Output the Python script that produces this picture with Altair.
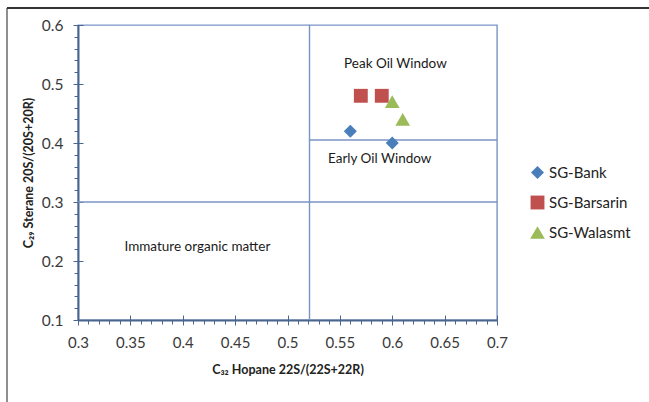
import altair as alt
import pandas as pd

# Sample measurements: C32 hopane vs C29 sterane isomerisation ratios
series = ["SG-Bank", "SG-Barsarin", "SG-Walasmt"]
sample_group = ["SG-Bank", "SG-Bank", "SG-Barsarin", "SG-Barsarin", "SG-Walasmt", "SG-Walasmt"]
hopane_ratio = [0.56, 0.60, 0.57, 0.59, 0.60, 0.61]
sterane_ratio = [0.42, 0.40, 0.48, 0.48, 0.47, 0.44]

series_colors = ["#4A7EBB", "#C0504D", "#9BBB59"]
series_shapes = ["diamond", "square", "triangle-up"]
series_sizes = [170, 215, 200]

# Axis ticks
x_ticks = [0.3, 0.35, 0.4, 0.45, 0.5, 0.55, 0.6, 0.65, 0.7]
y_ticks = [0.1, 0.2, 0.3, 0.4, 0.5, 0.6]
x_minor = [round(0.3 + 0.01 * i, 2) for i in range(41)]
y_minor = [round(0.1 + 0.02 * i, 2) for i in range(26)]

# Maturity zone boundaries
zone_x = [0.521, 0.3, 0.521]
zone_x2 = [0.521, 0.7, 0.7]
zone_y = [0.1, 0.3, 0.405]
zone_y2 = [0.6, 0.3, 0.405]

# Maturity zone labels
zone_labels = ["Peak Oil Window", "Early Oil Window", "Immature organic matter"]
label_x = [0.603, 0.588, 0.414]
label_y = [0.534, 0.373, 0.224]

W, H = 419, 295
AXIS = "#4A6690"
BOX = "#7894C4"
FONT = "Lato"

points = pd.DataFrame({"group": sample_group, "hopane": hopane_ratio, "sterane": sterane_ratio})
zones = pd.DataFrame({"x": zone_x, "x2": zone_x2, "y": zone_y, "y2": zone_y2})
labels = pd.DataFrame({"label": zone_labels, "x": label_x, "y": label_y})

xs = alt.Scale(domain=[0.3, 0.7], nice=False, zero=False)
ys = alt.Scale(domain=[0.1, 0.6], nice=False, zero=False)

main_x = alt.Axis(values=x_ticks, format=".2~f", grid=False, tickSize=5, tickColor=AXIS,
                  domainColor=AXIS, domainWidth=2, labelFont=FONT, labelFontSize=15,
                  labelColor="#3A3A3A", labelPadding=10, labelFlush=False,
                  title="C₃₂ Hopane 22S/(22S+22R)", titleFont=FONT, titleFontSize=12.5,
                  titleFontWeight="bold", titleColor="#222222", titlePadding=13)
main_y = alt.Axis(values=y_ticks, format=".1f", grid=False, tickSize=5, tickColor=AXIS,
                  domainColor=AXIS, domainWidth=2, labelFont=FONT, labelFontSize=15.5,
                  labelColor="#3A3A3A", labelPadding=10, labelFlush=False,
                  title="C₂₉ Sterane 20S/(20S+20R)", titleFont=FONT, titleFontSize=12.5,
                  titleFontWeight="bold", titleColor="#222222", titlePadding=6)

legend = alt.Legend(title=None, orient="none", legendX=452, legendY=140,
                    labelFont=FONT, labelFontSize=15, labelColor="#222222",
                    rowPadding=14, symbolSize=150, symbolStrokeWidth=0, labelOffset=4)

pts = alt.Chart(points).mark_point(filled=True, opacity=1).encode(
    x=alt.X("hopane:Q", scale=xs, axis=main_x),
    y=alt.Y("sterane:Q", scale=ys, axis=main_y),
    color=alt.Color("group:N", scale=alt.Scale(domain=series, range=series_colors), legend=legend),
    shape=alt.Shape("group:N", scale=alt.Scale(domain=series, range=series_shapes), legend=legend),
    size=alt.Size("group:N", scale=alt.Scale(domain=series, range=series_sizes), legend=None),
)

# Zone boundary lines, carrying the minor tick marks on the outer side of the axes
box = alt.Chart(zones).mark_rule(color=BOX, strokeWidth=1.4).encode(
    x=alt.X("x:Q", scale=xs, axis=alt.Axis(values=x_minor, labels=False, domain=False,
                                           grid=False, tickSize=4, tickColor=AXIS, title=None)),
    x2="x2:Q",
    y=alt.Y("y:Q", scale=ys, axis=alt.Axis(values=y_minor, labels=False, domain=False,
                                           grid=False, tickSize=4, tickColor=AXIS, title=None)),
    y2="y2:Q",
)

# Zone captions, carrying the inward half of the major ticks
txt = alt.Chart(labels).mark_text(font=FONT, fontSize=13.5, color="#1A1A1A").encode(
    x=alt.X("x:Q", scale=xs, axis=alt.Axis(orient="top", offset=-H, values=x_ticks, labels=False,
                                           domain=False, grid=False, tickSize=5, tickColor=AXIS,
                                           title=None)),
    y=alt.Y("y:Q", scale=ys, axis=alt.Axis(orient="right", offset=-W, values=y_ticks, labels=False,
                                           domain=False, grid=False, tickSize=5, tickColor=AXIS,
                                           title=None)),
    text="label:N",
)

# Outer frame edges
frame_left = alt.Chart(pd.DataFrame({"k": [0]})).mark_rule(color="#444444", strokeWidth=1.2).encode(
    x=alt.value(-71), y=alt.value(-17), y2=alt.value(377))
frame_top = alt.Chart(pd.DataFrame({"k": [0]})).mark_rule(color="#333333", strokeWidth=1.8).encode(
    x=alt.value(-71), x2=alt.value(571), y=alt.value(-17))

chart = alt.layer(box, txt, pts, frame_left, frame_top).resolve_axis(
    x="independent", y="independent"
).properties(
    width=W, height=H,
    padding={"left": 78, "top": 25, "right": 152, "bottom": 82},
    autosize=alt.AutoSizeParams(type="none"),
    background="white",
).configure_view(stroke=BOX, strokeWidth=1.4)

chart.save("out.html", embed_options={"renderer": "svg", "actions": False})
